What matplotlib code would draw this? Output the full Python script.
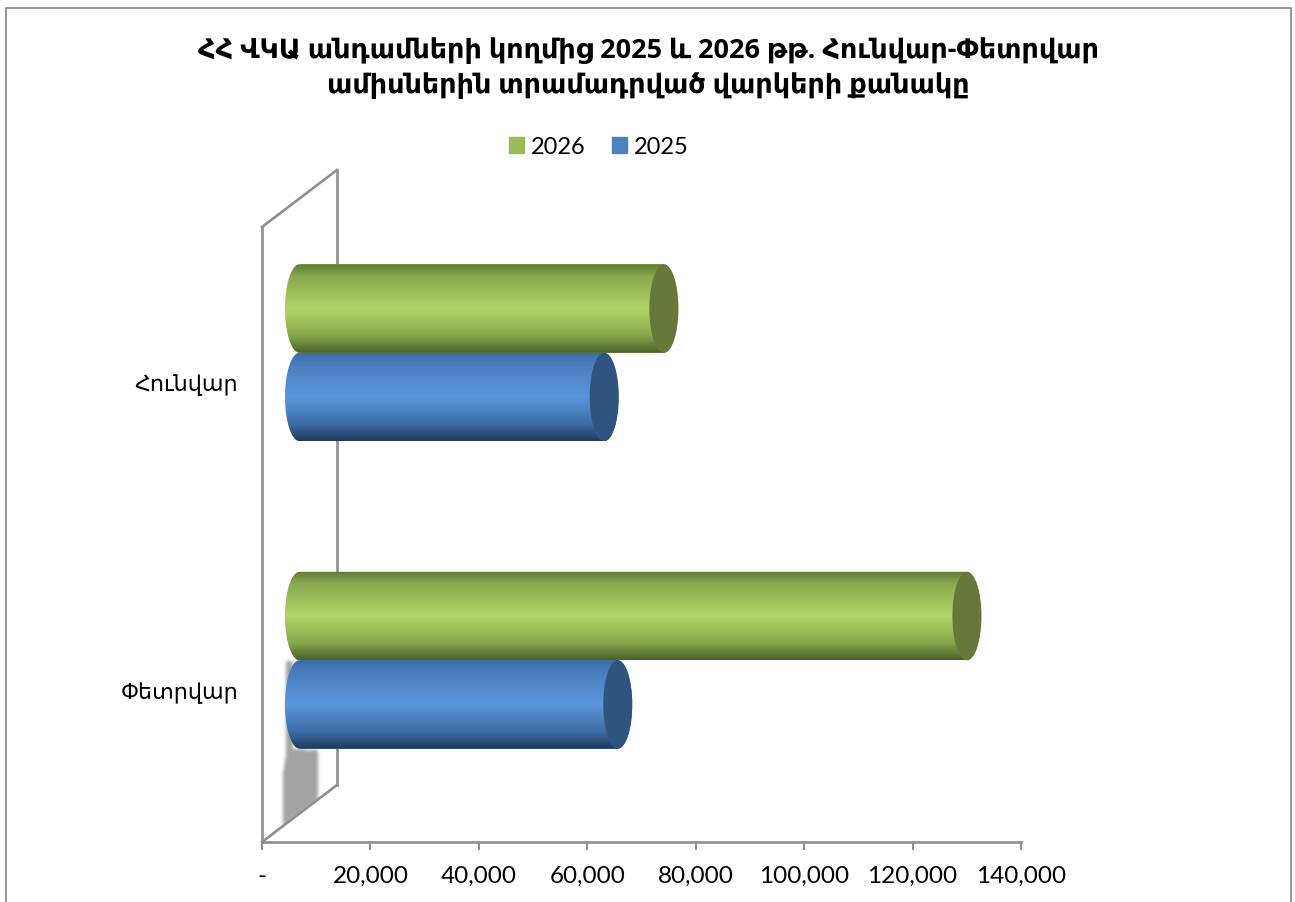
import numpy as np
import matplotlib
matplotlib.use("Agg")
import matplotlib.pyplot as plt
from matplotlib.colors import LinearSegmentedColormap
from matplotlib.lines import Line2D
from matplotlib.patches import Ellipse, PathPatch, Rectangle
from matplotlib.path import Path
from matplotlib.ticker import FuncFormatter
from matplotlib.transforms import ScaledTranslation

categories = ["Փետրվար", "Հունվար"]
series_names = ["2025", "2026"]
values_2025 = [58700, 56200]
values_2026 = [123100, 67200]
x_ticks = [0, 20000, 40000, 60000, 80000, 100000, 120000, 140000]
title_text = "ՀՀ ՎԿԱ անդամների կողմից 2025 և 2026 թթ. Հունվար-Փետրվար\nամիսներին տրամադրված վարկերի քանակը"

W, H, DPI = 1295, 902, 100
GRAY = "#8e8e8e"
FONT = ["Lato", "DejaVu Sans"]
plt.rcParams["font.family"] = FONT

fig = plt.figure(figsize=(W / DPI, H / DPI), dpi=DPI, facecolor="white")

# soft grey smear beneath the lower bar (blurred mask, drawn behind the axes)
smear = [(285, 660), (292, 660), (292, 748), (317, 750), (317, 800), (283, 826), (283, 770), (286, 752)]
yy, xx = np.mgrid[0:H, 0:W]
mask = Path(smear).contains_points(np.c_[xx.ravel(), yy.ravel()]).reshape(H, W).astype(float)
kernel = np.array([1, 2, 3, 4, 3, 2, 1], float)
kernel /= kernel.sum()
for axis in (0, 1):
    mask = np.apply_along_axis(lambda r: np.convolve(r, kernel, mode="same"), axis, mask)
# the floor edge cuts the smear sharply
floor = Path([(262, 842), (337, 785), (337, 902), (262, 902)])
mask[floor.contains_points(np.c_[xx.ravel(), yy.ravel()]).reshape(H, W)] = 0
rgba = np.zeros((H, W, 4))
rgba[..., :3] = 0.64
rgba[..., 3] = mask
fig.figimage(rgba, 0, 0, origin="upper", zorder=-1)

ax = fig.add_axes([262 / W, 1 - 842 / H, (1021 - 262) / W, (842 - 227) / H])
ax.set_xlim(0, 140000)
ax.set_ylim(-0.5, 1.5)
ax.patch.set_alpha(0)

for s in ("top", "right"):
    ax.spines[s].set_visible(False)
for s in ("left", "bottom"):
    ax.spines[s].set_color(GRAY)
    ax.spines[s].set_linewidth(1.9)

ax.set_xticks(x_ticks)
ax.xaxis.set_major_formatter(FuncFormatter(lambda v, _: "-" if v == 0 else f"{int(v):,}"))
ax.tick_params(axis="x", length=6, width=1.5, color=GRAY, labelsize=17.5, pad=11, labelcolor="black")
ax.set_yticks(range(len(categories)))
ax.set_yticklabels(categories, va="center")
ax.tick_params(axis="y", length=0, labelsize=16, pad=17, labelcolor="black")
label_shift = ScaledTranslation(0, -4.5 / DPI, fig.dpi_scale_trans)
for lab in ax.get_yticklabels():
    lab.set_transform(lab.get_transform() + label_shift)

# 3-D look: the bars sit halfway into the depth of the floor
depth_x, depth_y = 75, 57
full = ax.transData + ScaledTranslation(depth_x / DPI, depth_y / DPI, fig.dpi_scale_trans)
mid = ax.transData + ScaledTranslation(depth_x / 2 / DPI, depth_y / 2 / DPI - 0.005, fig.dpi_scale_trans)

# back wall and floor edge
ax.add_line(Line2D([0, 0], [-0.5, 1.5], transform=full, color=GRAY, lw=1.9, clip_on=False, zorder=1))
fx = 75 * 140000 / 759
fy = 57 * 2 / 615
ax.add_line(Line2D([0, fx], [-0.5, -0.5 + fy], color=GRAY, lw=1.9, clip_on=False, zorder=1.5))
ax.add_line(Line2D([0, fx], [1.5, 1.5 + fy], color=GRAY, lw=1.9, clip_on=False, zorder=1.5))

# cylinders
bar_h = 0.2875
cap_w = 2 * 14.5 * 140000 / 759
greens = LinearSegmentedColormap.from_list("g", [(0, "#5f7a35"), (.14, "#8aa84f"), (.5, "#b1d568"), (.8, "#8aa84e"), (1, "#4a6127")])
blues = LinearSegmentedColormap.from_list("b", [(0, "#3a6aa3"), (.14, "#4a7fbe"), (.5, "#5b96dc"), (.8, "#3f6ea8"), (1, "#1f3a5c")])
grad = np.linspace(0, 1, 256).reshape(-1, 1)


def cylinder(y, v, cmap, cap_color, base_color):
    ax.barh(y, v, height=bar_h, color=base_color, transform=mid, zorder=3)
    t = np.linspace(np.pi / 2, 3 * np.pi / 2, 40)
    left_x = cap_w / 2 * np.cos(t)
    left_y = y + bar_h / 2 * np.sin(t)
    right_x = v - left_x
    right_y = y - bar_h / 2 * np.sin(t)
    verts = np.c_[np.r_[left_x, right_x], np.r_[left_y, right_y]]
    clip = PathPatch(Path(np.r_[verts, verts[:1]]), transform=mid, facecolor="none", edgecolor="none")
    ax.add_patch(clip)
    im = ax.imshow(grad, aspect="auto", cmap=cmap, extent=(-cap_w, v + cap_w, y - bar_h / 2, y + bar_h / 2),
                   origin="upper", transform=mid, zorder=3.1, interpolation="bilinear")
    im.set_clip_path(clip)
    ax.add_patch(Ellipse((v, y), cap_w, bar_h, facecolor=cap_color, edgecolor="none", transform=mid, zorder=3.2))


offset = bar_h / 2
for i in range(len(categories)):
    cylinder(i - offset, values_2025[i], blues, "#30537f", "#4f81bd")
    cylinder(i + offset, values_2026[i], greens, "#66793a", "#9bbb59")
ax.set_xlim(0, 140000)
ax.set_ylim(-0.5, 1.5)

# title
fig.text(648 / W, 1 - 68 / H, title_text, ha="center", va="center", fontsize=19.48, fontweight="bold",
         family=["Open Sans", "DejaVu Sans"], linespacing=1.42, color="black")

# legend
handles = [Rectangle((0, 0), 1, 1, color="#9bbb59"), Rectangle((0, 0), 1, 1, color="#4f81bd")]
fig.legend(handles, [series_names[1], series_names[0]], ncol=2, frameon=False, loc="center",
           bbox_to_anchor=(598.5 / W, 1 - 147 / H), fontsize=17, handlelength=0.63, handleheight=0.63,
           handletextpad=0.29, columnspacing=1.12)

# chart frame
fig.add_artist(Line2D([6 / W, 6 / W, 1291 / W, 1291 / W], [0, 1 - 7.5 / H, 1 - 7.5 / H, 0],
                      transform=fig.transFigure, color=GRAY, lw=1.3))

fig.savefig("out.png", dpi=DPI)
